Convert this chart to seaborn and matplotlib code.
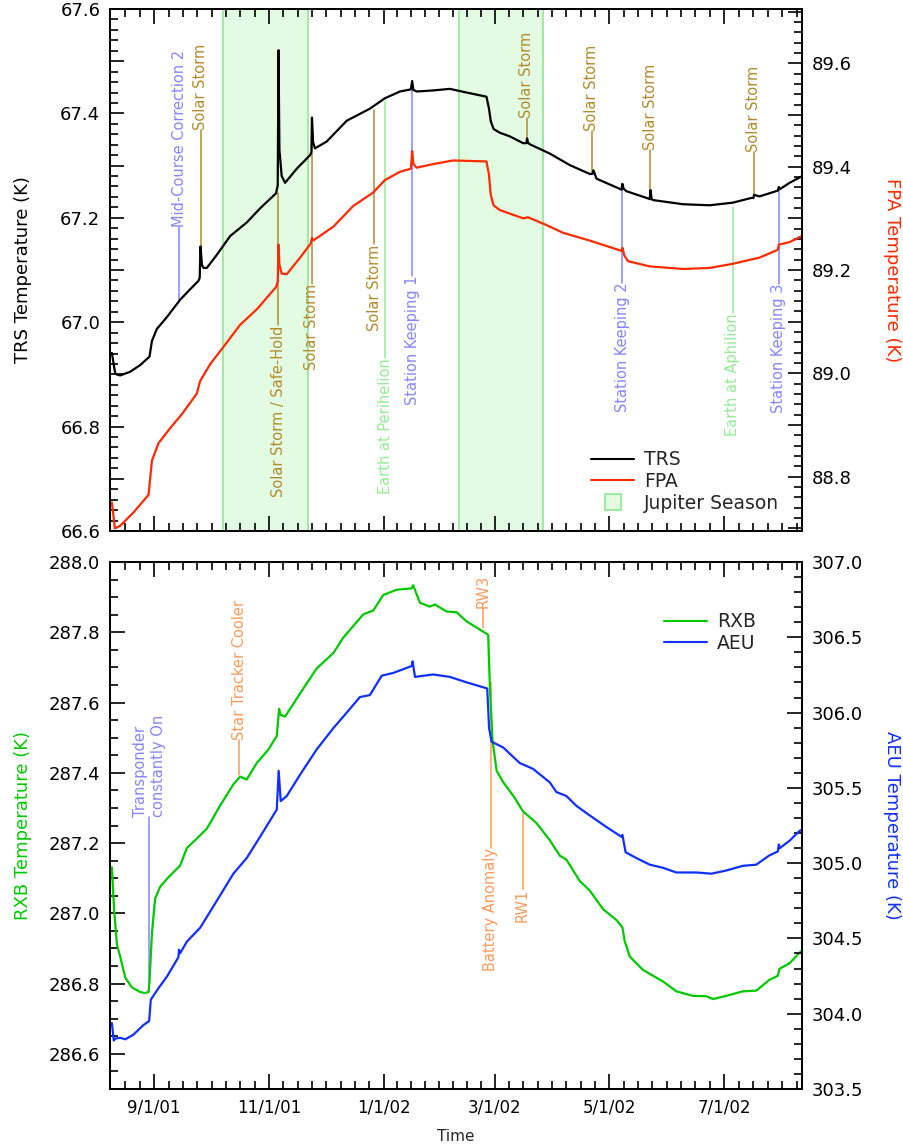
import numpy as np
import pandas as pd
import matplotlib
matplotlib.use("Agg")
import matplotlib.pyplot as plt
import matplotlib.dates as mdates
import matplotlib.ticker as mticker
from matplotlib.lines import Line2D
import seaborn as sns

sns.set_style("white")
plt.rcParams['font.family'] = ['DejaVu Sans']
plt.rcParams['axes.edgecolor'] = 'black'
plt.rcParams['xtick.color'] = 'black'
plt.rcParams['ytick.color'] = 'black'

# ---------------- data (day offsets from 2001-09-01, temperature K) ----------------
BASE = pd.Timestamp("2001-09-01")
X_RANGE_DAYS = (-23.5, 344.5)

TRS = [(-22.5, 66.941), (-20.7, 66.901), (-18.1, 66.898), (-12.8, 66.905), (-7.4, 66.918),
       (-2.5, 66.934), (-1.2, 66.964), (1.4, 66.987), (6.8, 67.010), (13.8, 67.043),
       (19.1, 67.063), (23.5, 67.079), (24.2, 67.085), (24.6, 67.145), (25.4, 67.110),
       (26.2, 67.104), (28.0, 67.104), (33.3, 67.129), (40.4, 67.165), (49.2, 67.191),
       (56.3, 67.218), (64.8, 67.247), (65.7, 67.262), (66.1, 67.521), (66.6, 67.330),
       (67.8, 67.280), (69.6, 67.267), (75.8, 67.294), (82.9, 67.320), (83.6, 67.326),
       (83.9, 67.392), (84.5, 67.345), (85.5, 67.333), (91.7, 67.346), (102.4, 67.386),
       (114.7, 67.409), (122.7, 67.429), (130.7, 67.442), (136.5, 67.446), (137.2, 67.462),
       (137.8, 67.445), (139.6, 67.442), (148.4, 67.444), (157.2, 67.447), (166.1, 67.440),
       (176.7, 67.432), (178.0, 67.410), (179.0, 67.385), (180.5, 67.370), (183.8, 67.363),
       (189.1, 67.356), (196.2, 67.343), (198.0, 67.343), (198.3, 67.352), (198.8, 67.344),
       (199.7, 67.341), (210.4, 67.323), (221.0, 67.301), (231.6, 67.284), (233.0, 67.284),
       (233.6, 67.291), (235.2, 67.275), (248.5, 67.254), (249.0, 67.265), (249.6, 67.256),
       (251.1, 67.251), (263.5, 67.236), (264.0, 67.253), (264.5, 67.236), (265.2, 67.234),
       (281.2, 67.226), (295.4, 67.224), (307.7, 67.229), (317.5, 67.238), (318.7, 67.238),
       (319.0, 67.244), (321.9, 67.241), (331.6, 67.252), (332.2, 67.259), (332.8, 67.255),
       (337.9, 67.267), (344.1, 67.279)]

FPA = [(-22.5, 88.750), (-20.9, 88.700), (-18.1, 88.705), (-11.0, 88.731), (-3.0, 88.765),
       (-1.2, 88.831), (2.3, 88.865), (8.5, 88.894), (14.7, 88.921), (22.7, 88.961),
       (24.4, 88.985), (29.8, 89.018), (36.8, 89.051), (45.7, 89.094), (54.6, 89.124),
       (64.8, 89.167), (65.7, 89.178), (66.1, 89.249), (66.6, 89.210), (67.8, 89.193),
       (70.5, 89.192), (77.6, 89.224), (83.2, 89.251), (83.9, 89.262), (84.6, 89.257),
       (95.3, 89.284), (105.9, 89.324), (116.5, 89.350), (122.7, 89.374), (130.7, 89.390),
       (136.5, 89.396), (137.2, 89.430), (137.8, 89.405), (139.6, 89.398), (148.4, 89.405),
       (159.0, 89.412), (176.7, 89.410), (178.0, 89.385), (179.0, 89.345), (180.5, 89.325),
       (183.8, 89.316), (196.2, 89.300), (198.8, 89.302), (208.6, 89.287), (217.4, 89.272),
       (231.6, 89.257), (248.5, 89.237), (249.0, 89.243), (250.0, 89.228), (252.0, 89.217),
       (263.5, 89.207), (281.2, 89.202), (295.4, 89.204), (307.7, 89.212), (321.9, 89.224),
       (331.6, 89.239), (332.2, 89.249), (337.9, 89.254), (344.1, 89.265)]

RXB = [(-22.5, 287.131), (-21.3, 287.009), (-19.8, 286.910), (-18.1, 286.877), (-15.4, 286.817),
       (-11.8, 286.789), (-7.4, 286.776), (-5.0, 286.773), (-3.0, 286.776), (-2.5, 286.806),
       (-1.2, 286.943), (0.5, 287.042), (3.2, 287.076), (7.6, 287.103), (13.8, 287.136),
       (17.4, 287.186), (22.7, 287.213), (28.0, 287.241), (35.1, 287.307), (42.1, 287.367),
       (45.7, 287.389), (49.2, 287.381), (54.6, 287.428), (60.7, 287.466), (65.2, 287.505),
       (66.4, 287.582), (67.2, 287.565), (69.6, 287.560), (77.6, 287.626), (86.4, 287.697),
       (95.3, 287.741), (100.6, 287.785), (111.2, 287.851), (116.5, 287.862), (121.8, 287.906),
       (128.9, 287.921), (136.9, 287.925), (137.7, 287.934), (141.3, 287.884), (146.6, 287.873),
       (149.3, 287.879), (155.5, 287.859), (160.8, 287.857), (166.1, 287.831), (174.9, 287.802),
       (177.6, 287.793), (178.5, 287.648), (179.9, 287.494), (182.1, 287.406), (185.6, 287.373),
       (190.9, 287.335), (196.2, 287.290), (203.3, 287.257), (210.4, 287.208), (215.7, 287.164),
       (219.2, 287.153), (226.3, 287.092), (231.6, 287.065), (238.7, 287.012), (245.8, 286.981),
       (249.0, 286.960), (250.2, 286.921), (252.9, 286.877), (259.9, 286.839), (270.6, 286.806),
       (277.7, 286.778), (286.5, 286.765), (293.6, 286.764), (297.1, 286.756), (304.2, 286.765),
       (313.0, 286.778), (320.2, 286.780), (327.2, 286.811), (331.6, 286.822), (332.5, 286.842),
       (337.9, 286.858), (343.2, 286.888), (344.1, 286.892)]

AEU = [(-22.5, 303.938), (-21.5, 303.822), (-20.7, 303.835), (-18.1, 303.840), (-15.4, 303.830),
       (-11.0, 303.861), (-5.7, 303.925), (-2.7, 303.951), (-1.8, 304.093), (2.3, 304.170),
       (6.8, 304.247), (12.9, 304.376), (13.2, 304.425), (13.8, 304.402), (17.4, 304.479),
       (24.4, 304.570), (33.3, 304.750), (42.1, 304.930), (49.2, 305.034), (56.3, 305.175),
       (65.2, 305.356), (66.2, 305.613), (67.3, 305.412), (70.5, 305.446), (77.6, 305.588),
       (86.4, 305.755), (95.3, 305.897), (102.4, 306.000), (109.4, 306.103), (114.7, 306.116),
       (121.0, 306.245), (127.1, 306.263), (136.9, 306.309), (137.4, 306.340), (138.7, 306.237),
       (148.4, 306.253), (157.2, 306.237), (166.1, 306.201), (177.1, 306.160), (178.1, 305.897),
       (179.4, 305.807), (185.6, 305.768), (194.4, 305.665), (201.5, 305.626), (210.4, 305.536),
       (213.9, 305.472), (219.2, 305.446), (224.5, 305.381), (231.6, 305.317), (240.5, 305.240),
       (248.5, 305.175), (249.0, 305.188), (250.7, 305.072), (256.4, 305.034), (263.5, 304.990),
       (270.6, 304.969), (277.7, 304.938), (288.3, 304.938), (296.3, 304.930), (304.2, 304.951),
       (313.0, 304.982), (320.2, 304.990), (327.2, 305.052), (331.6, 305.077), (332.2, 305.124),
       (332.5, 305.098), (337.9, 305.149), (343.2, 305.214), (344.1, 305.220)]

JUPITER_START_DAYS = [36.5, 162.2]
JUPITER_END_DAYS = [81.6, 206.5]

MAJOR_TICK_DATES = ["2001-09-01", "2001-11-01", "2002-01-01", "2002-03-01", "2002-05-01", "2002-07-01"]
MINOR_SPAN_DATES = ["2001-07-01"] + MAJOR_TICK_DATES + ["2002-09-01"]

# events: (label, day, line start (left-axis K), line end / text anchor (left-axis K), kind)
TOP_EVENTS = [
    ("Mid-Course Correction 2", 13.4, 67.043, 67.182, "blue"),
    ("Solar Storm", 24.7, 67.145, 67.369, "gold"),
    ("Solar Storm / Safe-Hold", 66.1, 67.247, 66.994, "gold"),
    ("Solar Storm", 83.9, 67.389, 67.073, "gold"),
    ("Solar Storm", 116.9, 67.406, 67.149, "gold"),
    ("Earth at Perihelion", 122.9, 67.422, 66.931, "green"),
    ("Station Keeping 1", 137.2, 67.462, 67.089, "blue"),
    ("Solar Storm", 198.2, 67.346, 67.392, "gold"),
    ("Solar Storm", 232.8, 67.287, 67.367, "gold"),
    ("Station Keeping 2", 249.0, 67.264, 67.076, "blue"),
    ("Solar Storm", 263.9, 67.234, 67.330, "gold"),
    ("Earth at Aphilion", 307.7, 67.221, 67.017, "green"),
    ("Solar Storm", 318.9, 67.241, 67.327, "gold"),
    ("Station Keeping 3", 332.1, 67.257, 67.073, "blue"),
]
BOTTOM_EVENTS = [
    ("Transponder\nconstantly On", -2.5, 286.800, 287.274, "blue"),
    ("Star Tracker Cooler", 45.2, 287.395, 287.494, "orange"),
    ("RW3", 175.0, 287.813, 287.868, "orange"),
    ("Battery Anomaly", 178.9, 287.659, 287.186, "orange"),
    ("RW1", 195.9, 287.285, 287.070, "orange"),
]

# ---------------- styling ----------------
EVENT_COLORS = {"blue": "#8585ff", "gold": "#b38a2c", "green": "#95ec95", "orange": "#ff9a5a"}
TRS_C, FPA_C, RXB_C, AEU_C = "black", "#ff2a00", "#00c800", "#1030ff"
JUP_FILL, JUP_EDGE = "#e3fbe3", "#95ec95"
LW = 1.6


def to_dates(days):
    return BASE + pd.to_timedelta(np.asarray(days, dtype=float), unit="D")


def frame(pairs):
    d, v = zip(*pairs)
    return pd.DataFrame({"Time": to_dates(d), "value": np.asarray(v, dtype=float)})


def date_fmt(x, pos):
    d = mdates.num2date(x)
    return f"{d.month}/{d.day}/{d.year % 100:02d}"


def tenth_fmt(step):
    def f(v, pos):
        k = round(v / step)
        return f"{v:.1f}" if k % 2 == 0 else ""
    return mticker.FuncFormatter(f)


majors = mdates.date2num(pd.to_datetime(MAJOR_TICK_DATES))
span = mdates.date2num(pd.to_datetime(MINOR_SPAN_DATES))
minors = np.concatenate([np.linspace(a, b, 9)[1:-1] for a, b in zip(span[:-1], span[1:])])

fig = plt.figure(figsize=(9.04, 11.48), dpi=100)
W, H = 904, 1148
ax_top = fig.add_axes([110 / W, 1 - 531 / H, 692 / W, 522 / H])
ax_bot = fig.add_axes([110 / W, 1 - 1089 / H, 692 / W, 527 / H])


def draw_events(ax, events):
    for label, day, y0, y1, kind in events:
        t = to_dates([day])[0]
        c = EVENT_COLORS[kind]
        ax.plot([t, t], [y0, y1], color=c, lw=1.1, zorder=3)
        above = y1 > y0
        ax.text(t, y1, label, rotation=90, color=c, fontsize=10.5,
                ha="center", va="bottom" if above else "top",
                multialignment="left", zorder=4)


def style(ax, ax2, show_xlabels):
    ax.set_xlim(to_dates([X_RANGE_DAYS[0]])[0], to_dates([X_RANGE_DAYS[1]])[0])
    ax.xaxis.set_major_locator(mticker.FixedLocator(majors))
    ax.xaxis.set_minor_locator(mticker.FixedLocator(minors))
    ax.xaxis.set_major_formatter(mticker.FuncFormatter(date_fmt))
    ax.tick_params(axis="x", which="both", direction="in", top=True, bottom=True,
                   labelbottom=show_xlabels, labelsize=12, pad=7)
    ax.tick_params(axis="y", which="both", direction="in", left=True, right=False,
                   labelsize=13, pad=7)
    ax2.tick_params(axis="y", which="both", direction="in", right=True, left=False,
                    labelsize=13, pad=7)
    for a in (ax, ax2):
        a.tick_params(which="major", length=11, width=1.2)
        a.tick_params(which="minor", length=5.5, width=1.2)
        for s in a.spines.values():
            s.set_linewidth(1.4)
            s.set_color("black")
        a.grid(False)


# ---------------- top panel ----------------
for s, e in zip(JUPITER_START_DAYS, JUPITER_END_DAYS):
    ax_top.axvspan(to_dates([s])[0], to_dates([e])[0], facecolor=JUP_FILL,
                   edgecolor=JUP_EDGE, lw=1.3, zorder=0)
sns.lineplot(data=frame(TRS), x="Time", y="value", ax=ax_top, color=TRS_C, lw=LW,
             estimator=None, sort=False, legend=False, zorder=5)
draw_events(ax_top, TOP_EVENTS)
ax_top2 = ax_top.twinx()
sns.lineplot(data=frame(FPA), x="Time", y="value", ax=ax_top2, color=FPA_C, lw=LW,
             estimator=None, sort=False, legend=False)
ax_top.set_ylim(66.6, 67.6)
ax_top2.set_ylim(88.695, 89.705)
for a in (ax_top, ax_top2):
    a.yaxis.set_major_locator(mticker.MultipleLocator(0.1))
    a.yaxis.set_minor_locator(mticker.MultipleLocator(0.02))
    a.yaxis.set_major_formatter(tenth_fmt(0.1))
style(ax_top, ax_top2, False)
for a in (ax_top, ax_top2):
    a.tick_params(axis="y", which="major", length=10)
ax_top.set_xlabel("")
ax_top.set_ylabel("TRS Temperature (K)", fontsize=13, color="black")
ax_top.yaxis.set_label_coords(-0.113, 0.5)
ax_top2.set_ylabel("FPA Temperature (K)", fontsize=13, color=FPA_C, rotation=270, va="bottom")
ax_top2.yaxis.set_label_coords(1.117, 0.5)

top_handles = [Line2D([], [], color=TRS_C, lw=1.5), Line2D([], [], color=FPA_C, lw=1.5),
               Line2D([], [], marker="s", ms=12, mfc=JUP_FILL, mec=JUP_EDGE, mew=1.3, ls="none")]
ax_top2.legend(top_handles, ["TRS", "FPA", "Jupiter Season"], loc="lower left",
               bbox_to_anchor=(0.695, 0.035), frameon=False, fontsize=13.5,
               handlelength=2.3, handletextpad=0.55, labelspacing=0.15,
               borderpad=0, borderaxespad=0)

# ---------------- bottom panel ----------------
sns.lineplot(data=frame(RXB), x="Time", y="value", ax=ax_bot, color=RXB_C, lw=LW,
             estimator=None, sort=False, legend=False, zorder=5)
draw_events(ax_bot, BOTTOM_EVENTS)
ax_bot2 = ax_bot.twinx()
sns.lineplot(data=frame(AEU), x="Time", y="value", ax=ax_bot2, color=AEU_C, lw=LW,
             estimator=None, sort=False, legend=False)
ax_bot.set_ylim(286.5, 288.0)
ax_bot2.set_ylim(303.5, 307.0)
ax_bot.yaxis.set_major_locator(mticker.MultipleLocator(0.2))
ax_bot.yaxis.set_minor_locator(mticker.MultipleLocator(0.05))
ax_bot2.yaxis.set_major_locator(mticker.MultipleLocator(0.5))
ax_bot2.yaxis.set_minor_locator(mticker.MultipleLocator(0.1))
ax_bot.yaxis.set_major_formatter(mticker.FormatStrFormatter("%.1f"))
ax_bot2.yaxis.set_major_formatter(mticker.FormatStrFormatter("%.1f"))
style(ax_bot, ax_bot2, True)
ax_bot.set_xlabel("Time", fontsize=11)
ax_bot.xaxis.set_label_coords(0.5, -0.075)
ax_bot.set_ylabel("RXB Temperature (K)", fontsize=13, color=RXB_C)
ax_bot.yaxis.set_label_coords(-0.113, 0.5)
ax_bot2.set_ylabel("AEU Temperature (K)", fontsize=13, color=AEU_C, rotation=270, va="bottom")
ax_bot2.yaxis.set_label_coords(1.117, 0.5)

bot_handles = [Line2D([], [], color=RXB_C, lw=1.5), Line2D([], [], color=AEU_C, lw=1.5)]
ax_bot2.legend(bot_handles, ["RXB", "AEU"], loc="upper left",
               bbox_to_anchor=(0.80, 0.905), frameon=False, fontsize=13.5,
               handlelength=2.3, handletextpad=0.55, labelspacing=0.15,
               borderpad=0, borderaxespad=0)

fig.savefig("out.png", dpi=100)
